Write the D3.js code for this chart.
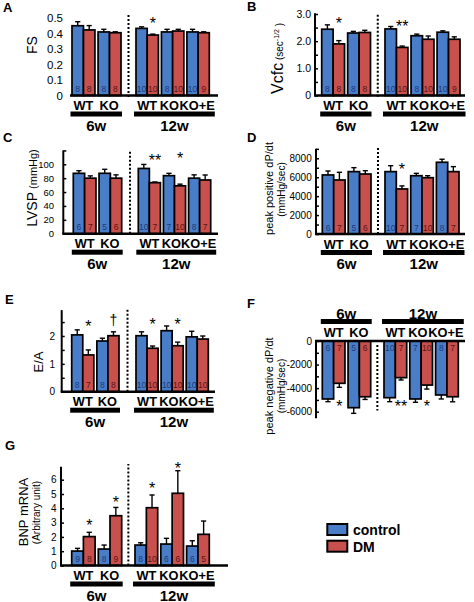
<!DOCTYPE html>
<html><head><meta charset="utf-8">
<script src="https://cdn.jsdelivr.net/npm/d3@7"></script>
<style>body{margin:0;background:#fff;} svg{display:block;}</style>
</head><body>
<svg id="chart" width="474" height="602"></svg>
<script>
// ---------------- DATA ----------------
const timeGroups = ["6w", "12w"];
const genotypes6w = ["WT", "KO"];
const genotypes12w = ["WT", "KO", "KO+E"];
const seriesNames = ["control", "DM"];
// pair order: 6w WT, 6w KO, 12w WT, 12w KO, 12w KO+E

// A: FS
const fsControl = [0.45, 0.41, 0.433, 0.41, 0.41];
const fsControlErr = [0.026, 0.017, 0.01, 0.017, 0.017];
const fsDM = [0.423, 0.405, 0.39, 0.416, 0.405];
const fsDMErr = [0.028, 0.006, 0.006, 0.011, 0.006];
const fsNControl = [8, 8, 10, 8, 10];
const fsNDM = [8, 8, 10, 10, 9];
const fsTicks = [0, 0.1, 0.2, 0.3, 0.4, 0.5];
const fsStars = [{pair: 2, text: "*", value: 0.487}];

// B: Vcfc
const vcfcControl = [2.44, 2.30, 2.45, 2.20, 2.33];
const vcfcControlErr = [0.16, 0.06, 0.09, 0.06, 0.05];
const vcfcDM = [1.90, 2.32, 1.77, 2.07, 2.07];
const vcfcDMErr = [0.12, 0.08, 0.05, 0.12, 0.09];
const vcfcNControl = [8, 8, 10, 8, 10];
const vcfcNDM = [8, 8, 10, 10, 9];
const vcfcTicks = [0, 1.0, 2.0, 3.0];
const vcfcMinorTicks = [0, 0.5, 1, 1.5, 2, 2.5, 3];
const vcfcStars = [{pair: 0, text: "*", value: 2.78}, {pair: 2, text: "**", value: 2.67}];

// C: LVSP
const lvspControl = [87, 87, 94, 83.6, 80];
const lvspControlErr = [3.8, 5.8, 5.8, 3.4, 4.8];
const lvspDM = [80, 80, 73.5, 69, 77.4];
const lvspDMErr = [3.3, 4.8, 1, 2.4, 7.2];
const lvspNControl = [6, 5, 10, 7, 8];
const lvspNDM = [7, 6, 7, 10, 7];
const lvspTicks = [0, 20, 40, 60, 80, 100];
const lvspMinorTicks = [0, 20, 40, 60, 80, 100, 120];
const lvspStars = [{pair: 2, text: "**", value: 111}, {pair: 3, text: "*", value: 113}];

// D: peak positive dP/dt
const posControl = [6240, 6590, 6590, 6160, 7580];
const posControlErr = [420, 420, 630, 250, 320];
const posDM = [5710, 6340, 4760, 5950, 6590];
const posDMErr = [810, 350, 320, 210, 530];
const posNControl = [6, 5, 10, 7, 8];
const posNDM = [7, 6, 7, 10, 7];
const posTicks = [0, 2000, 4000, 6000, 8000];
const posMinorTicks = [0, 1000, 2000, 3000, 4000, 5000, 6000, 7000, 8000, 9000];
const posStars = [{pair: 2, text: "*", value: 7190}];

// E: E/A
const eaControl = [2.04, 1.82, 2.01, 2.19, 1.97];
const eaControlErr = [0.18, 0.10, 0.14, 0.17, 0.20];
const eaDM = [1.32, 2.01, 1.56, 1.65, 1.89];
const eaDMErr = [0.18, 0.14, 0.08, 0.13, 0.11];
const eaNControl = [8, 8, 10, 10, 10];
const eaNDM = [7, 8, 10, 10, 10];
const eaTicks = [0, 1, 2];
const eaMinorTicks = [0, 0.5, 1, 1.5, 2, 2.5];
const eaStars = [{pair: 0, text: "*", value: 2.48}, {pair: 1, text: "†", value: 2.57},
                 {pair: 2, text: "*", value: 2.54}, {pair: 3, text: "*", value: 2.54}];

// F: peak negative dP/dt
const negControl = [-4920, -5660, -4810, -4920, -4580];
const negControlErr = [230, 480, 340, 280, 340];
const negDM = [-3590, -4730, -3110, -3740, -4730];
const negDMErr = [340, 230, 200, 340, 430];
const negNControl = [6, 5, 10, 7, 8];
const negNDM = [7, 6, 7, 10, 7];
const negTicks = [0, -2000, -4000, -6000];
const negMinorTicks = [0, -1000, -2000, -3000, -4000, -5000, -6000];
const negStars = [{pair: 0, text: "*", value: -5290}, {pair: 2, text: "**", value: -5290},
                  {pair: 3, text: "*", value: -5290}];

// G: BNP mRNA
const bnpControl = [1.01, 1.15, 1.43, 1.50, 1.36];
const bnpControlErr = [0.19, 0.28, 0.16, 0.40, 0.37];
const bnpDM = [2.02, 3.48, 4.04, 5.05, 2.18];
const bnpDMErr = [0.30, 0.58, 0.89, 1.58, 0.93];
const bnpNControl = [9, 8, 8, 6, 6];
const bnpNDM = [8, 9, 10, 6, 5];
const bnpTicks = [0, 1, 2, 3, 4, 5, 6];
const bnpMinorTicks = [0, 1, 2, 3, 4, 5, 6];
const bnpStars = [{pair: 0, text: "*", value: 3.06}, {pair: 1, text: "*", value: 4.65},
                  {pair: 2, text: "*", value: 5.63}, {pair: 3, text: "*", value: 7.03}];

// ---------------- STYLE / LAYOUT ----------------
const FONT = '"Liberation Sans", Arial, Helvetica, sans-serif';
const BLUE = "#4a7dc8", RED = "#c8504d";
const N_BLUE = "#1a3a78", N_RED = "#581414";
const colorScale = d3.scaleOrdinal().domain(seriesNames).range([BLUE, RED]);
const nColor = d3.scaleOrdinal().domain(seriesNames).range([N_BLUE, N_RED]);

const fmt1 = d => d === 0 ? "0" : d3.format(".1f")(d);
const fmt0 = d => String(d);

const panels = [
  {letter: "A", lp: [3, 12], y0: 95.5, ref: [0.5, 18], axisX: 70, axisLine: false, axisSpan: null,
   xEnd: 218, x6: [72, 121], x12: [136, 209.3], ticks: fsTicks, minor: [], tickFont: 11.5, labelRight: 63, fmt: fmt1,
   dot: [-0.01, 0.53], top: false,
   data: {c: fsControl, ce: fsControlErr, d: fsDM, de: fsDMErr, nc: fsNControl, nd: fsNDM, stars: fsStars},
   ylabels: [{x: 37, y: 45, parts: [["FS", 14]]}]},
  {letter: "B", lp: [247, 11], y0: 95.5, ref: [3, 14], axisX: 315, axisLine: true, axisSpan: [0, 3.03],
   xEnd: 465, x6: [321.7, 370.5], x12: [385, 460], ticks: vcfcTicks, minor: vcfcMinorTicks, tickFont: 10.5, labelRight: 311, fmt: fmt1,
   dot: [-0.05, 3.03], top: false,
   data: {c: vcfcControl, ce: vcfcControlErr, d: vcfcDM, de: vcfcDMErr, nc: vcfcNControl, nd: vcfcNDM, stars: vcfcStars},
   ylabels: [{x: 283.3, y: 58.5, parts: [["Vcfc", 16], [" (sec", 10], ["-1/2", 7, -4], [" )", 10, 4]]}]},
  {letter: "C", lp: [3, 142], y0: 233.7, ref: [100, 164.3], axisX: 63.3, axisLine: true, axisSpan: [0, 120],
   xEnd: 218, x6: [73.3, 121.7], x12: [138.3, 210.7], ticks: lvspTicks, minor: lvspMinorTicks, tickFont: 9.5, labelRight: 54, fmt: fmt0,
   dot: [0, 121], top: false,
   data: {c: lvspControl, ce: lvspControlErr, d: lvspDM, de: lvspDMErr, nc: lvspNControl, nd: lvspNDM, stars: lvspStars},
   ylabels: [{x: 36.5, y: 188, parts: [["LVSP", 14], [" (mmHg)", 11]]}]},
  {letter: "D", lp: [247, 142], y0: 234, ref: [8000, 158.3], axisX: 316, axisLine: true, axisSpan: [0, 9000],
   xEnd: 465, x6: [322.3, 371], x12: [385, 459], ticks: posTicks, minor: posMinorTicks, tickFont: 10, labelRight: 311.7, fmt: fmt0,
   dot: [0, 9100], top: false,
   data: {c: posControl, ce: posControlErr, d: posDM, de: posDMErr, nc: posNControl, nd: posNDM, stars: posStars},
   ylabels: [{x: 273, y: 188.5, parts: [["peak positive dP/dt", 11]]}, {x: 285.3, y: 189.5, parts: [["(mmHg/sec)", 10]]}]},
  {letter: "E", lp: [5, 304], y0: 391.7, ref: [2, 336], axisX: 61.7, axisLine: true, axisSpan: [0, 2.93],
   xEnd: 215, x6: [71.7, 119], x12: [136, 208.3], ticks: eaTicks, minor: eaMinorTicks, tickFont: 10, labelRight: 55, fmt: fmt0,
   dot: [0, 3.0], top: false,
   data: {c: eaControl, ce: eaControlErr, d: eaDM, de: eaDMErr, nc: eaNControl, nd: eaNDM, stars: eaStars},
   ylabels: [{x: 43, y: 362, parts: [["E/A", 13]]}]},
  {letter: "F", lp: [247, 308], y0: 341, ref: [-6000, 411.7], axisX: 316, axisLine: true, axisSpan: [0, -6550],
   xEnd: 465, x6: [322.3, 370.7], x12: [384, 458.3], ticks: negTicks, minor: negMinorTicks, tickFont: 10, labelRight: 312, fmt: fmt0,
   dot: [-340, -5900], top: true,
   data: {c: negControl, ce: negControlErr, d: negDM, de: negDMErr, nc: negNControl, nd: negNDM, stars: negStars},
   ylabels: [{x: 273, y: 386, parts: [["peak negative dP/dt", 11]]}, {x: 285, y: 386, parts: [["(mmHg/sec)", 10]]}]},
  {letter: "G", lp: [5, 450], y0: 565.5, ref: [6, 479.7], axisX: 61, axisLine: true, axisSpan: [0, 6.9],
   xEnd: 228, x6: [71.7, 121.7], x12: [135, 209.3], ticks: bnpTicks, minor: bnpMinorTicks, tickFont: 10, labelRight: 56.5, fmt: fmt0,
   dot: [0, 7.1], top: false,
   data: {c: bnpControl, ce: bnpControlErr, d: bnpDM, de: bnpDMErr, nc: bnpNControl, nd: bnpNDM, stars: bnpStars},
   ylabels: [{x: 27.7, y: 512, parts: [["BNP mRNA", 13]]}, {x: 40, y: 512.5, parts: [["(Arbitrary unit)", 10]]}]}
];

const svg = d3.select("#chart").style("font-family", FONT);

function drawPanel(p) {
  const g = svg.append("g");
  const y = d3.scaleLinear().domain([0, p.ref[0]]).range([p.y0, p.ref[1]]);
  const x6 = d3.scaleBand().domain(genotypes6w).range(p.x6).paddingInner(0.12);
  const x12 = d3.scaleBand().domain(genotypes12w).range(p.x12).paddingInner(0.12);
  const pairs = [
    {time: "6w", geno: "WT", x: x6("WT"), w: x6.bandwidth(), shift: 0},
    {time: "6w", geno: "KO", x: x6("KO"), w: x6.bandwidth(), shift: -0.5},
    {time: "12w", geno: "WT", x: x12("WT"), w: x12.bandwidth(), shift: 0},
    {time: "12w", geno: "KO", x: x12("KO"), w: x12.bandwidth(), shift: -3.2},
    {time: "12w", geno: "KO+E", x: x12("KO+E"), w: x12.bandwidth(), shift: -1}
  ];

  // panel letter
  g.append("text").attr("x", p.lp[0]).attr("y", p.lp[1]).text(p.letter)
    .attr("font-size", 13).attr("font-weight", "bold").attr("fill", "#000");

  // y-axis labels
  const lab = g.append("g").attr("transform", `translate(${p.labelRight},0)`)
    .call(d3.axisLeft(y).tickValues(p.ticks).tickSize(0).tickPadding(0).tickFormat(p.fmt));
  lab.select(".domain").remove();
  lab.selectAll("text").attr("font-size", p.tickFont).attr("font-family", FONT).attr("fill", "#000");

  if (p.axisLine) {
    const ax = g.append("g").attr("transform", `translate(${p.axisX},0)`)
      .call(d3.axisRight(y).tickValues(p.minor).tickSize(3).tickFormat(""));
    ax.select(".domain").remove();
    ax.selectAll("line").attr("stroke", "#000").attr("stroke-width", 1.5);
    g.append("line").attr("x1", p.axisX).attr("x2", p.axisX)
      .attr("y1", y(p.axisSpan[0])).attr("y2", y(p.axisSpan[1]))
      .attr("stroke", "#000").attr("stroke-width", 2);
  }

  // bars data
  const bars = [];
  pairs.forEach((pr, i) => {
    bars.push({pair: i, s: "control", v: p.data.c[i], e: p.data.ce[i], n: p.data.nc[i], x: pr.x, pw: pr.w});
    bars.push({pair: i, s: "DM", v: p.data.d[i], e: p.data.de[i], n: p.data.nd[i], x: pr.x, pw: pr.w});
  });
  const bx = d => d.x + (d.s === "control" ? 0 : d.pw / 2);
  const tipV = d => d.v >= 0 ? d.v + d.e : d.v - d.e;

  // error bars (behind bars)
  const eb = g.append("g").selectAll("g").data(bars).join("g");
  eb.append("line")
    .attr("x1", d => bx(d) + d.pw / 4).attr("x2", d => bx(d) + d.pw / 4)
    .attr("y1", d => y(d.v)).attr("y2", d => y(tipV(d)))
    .attr("stroke", "#000").attr("stroke-width", 1.4);
  eb.append("line")
    .attr("x1", d => bx(d) + d.pw / 4 - 2.6).attr("x2", d => bx(d) + d.pw / 4 + 2.6)
    .attr("y1", d => y(tipV(d))).attr("y2", d => y(tipV(d)))
    .attr("stroke", "#000").attr("stroke-width", 1.4);

  // bars
  g.append("g").selectAll("rect").data(bars).join("rect")
    .attr("x", d => bx(d)).attr("width", d => d.pw / 2)
    .attr("y", d => Math.min(y(d.v), y(0))).attr("height", d => Math.abs(y(d.v) - y(0)))
    .attr("fill", d => colorScale(d.s)).attr("stroke", "#000").attr("stroke-width", 1.7);

  // n labels
  g.append("g").selectAll("text").data(bars).join("text")
    .attr("x", d => bx(d) + d.pw / 4)
    .attr("y", d => p.top ? y(0) + 9.5 : y(0) - 3.5)
    .attr("text-anchor", "middle").attr("font-size", 8.5)
    .attr("fill", d => nColor(d.s)).text(d => d.n);

  // x axis line
  g.append("line").attr("x1", p.axisX - (p.axisLine ? 1 : 0)).attr("x2", p.xEnd)
    .attr("y1", y(0)).attr("y2", y(0)).attr("stroke", "#000").attr("stroke-width", 2.4);

  // dotted separator
  const dx = (p.x6[1] + p.x12[0]) / 2;
  g.append("line").attr("x1", dx).attr("x2", dx).attr("y1", y(p.dot[0])).attr("y2", y(p.dot[1]))
    .attr("stroke", "#000").attr("stroke-width", 2).attr("stroke-dasharray", "2,2");

  // stars
  g.append("g").selectAll("text").data(p.data.stars).join("text")
    .attr("x", d => pairs[d.pair].x + pairs[d.pair].w * 0.75)
    .attr("y", d => y(d.value) + (d.text === "†" ? 0.32 * 14 : 0.57 * 16))
    .attr("text-anchor", "middle")
    .attr("font-size", d => d.text === "†" ? 14 : 16)
    .attr("fill", "#000")
    .text(d => d.text);

  // group labels
  const wtY = p.top ? y(0) - 4 : y(0) + 14.5;
  const barY = p.top ? y(0) - 22 : y(0) + 16;
  const timeY = p.top ? y(0) - 22.5 : y(0) + 35;
  g.append("g").selectAll("text").data(pairs).join("text")
    .attr("x", d => d.x + d.w / 2 + d.shift).attr("y", wtY)
    .attr("text-anchor", "middle").attr("font-size", 12.8).attr("font-weight", "bold")
    .attr("fill", "#000")
    .text(d => d.geno);
  const spans = [
    {t: "6w", x1: p.x6[0] - 1.5, x2: p.x6[1] + 1},
    {t: "12w", x1: p.x12[0] - 2, x2: p.x12[1] + 5.5}
  ];
  g.append("g").selectAll("rect").data(spans).join("rect")
    .attr("x", d => d.x1).attr("width", d => d.x2 - d.x1)
    .attr("y", barY).attr("height", 5).attr("fill", "#000");
  g.append("g").selectAll("text").data(spans).join("text")
    .attr("x", d => (d.x1 + d.x2) / 2).attr("y", timeY)
    .attr("text-anchor", "middle").attr("font-size", 15).attr("font-weight", "bold")
    .attr("fill", "#000")
    .text(d => d.t);

  // y titles
  p.ylabels.forEach(l => {
    const t = g.append("text").attr("transform", `translate(${l.x},${l.y}) rotate(-90)`)
      .attr("text-anchor", "middle").attr("fill", "#000");
    l.parts.forEach(pt => {
      const ts = t.append("tspan").attr("font-size", pt[1]).text(pt[0]);
      if (pt[2]) ts.attr("dy", pt[2]);
    });
  });
}

panels.forEach(drawPanel);

// legend
const leg = svg.append("g");
seriesNames.forEach((s, i) => {
  leg.append("rect").attr("x", 327.3).attr("y", 524 + i * 16.7).attr("width", 20).attr("height", 11)
    .attr("fill", colorScale(s)).attr("stroke", "#000").attr("stroke-width", 2);
  leg.append("text").attr("x", 353).attr("y", 535 + i * 16.7).attr("font-size", 14)
    .attr("font-weight", "bold").attr("fill", "#000").text(s);
});
</script>
</body></html>
